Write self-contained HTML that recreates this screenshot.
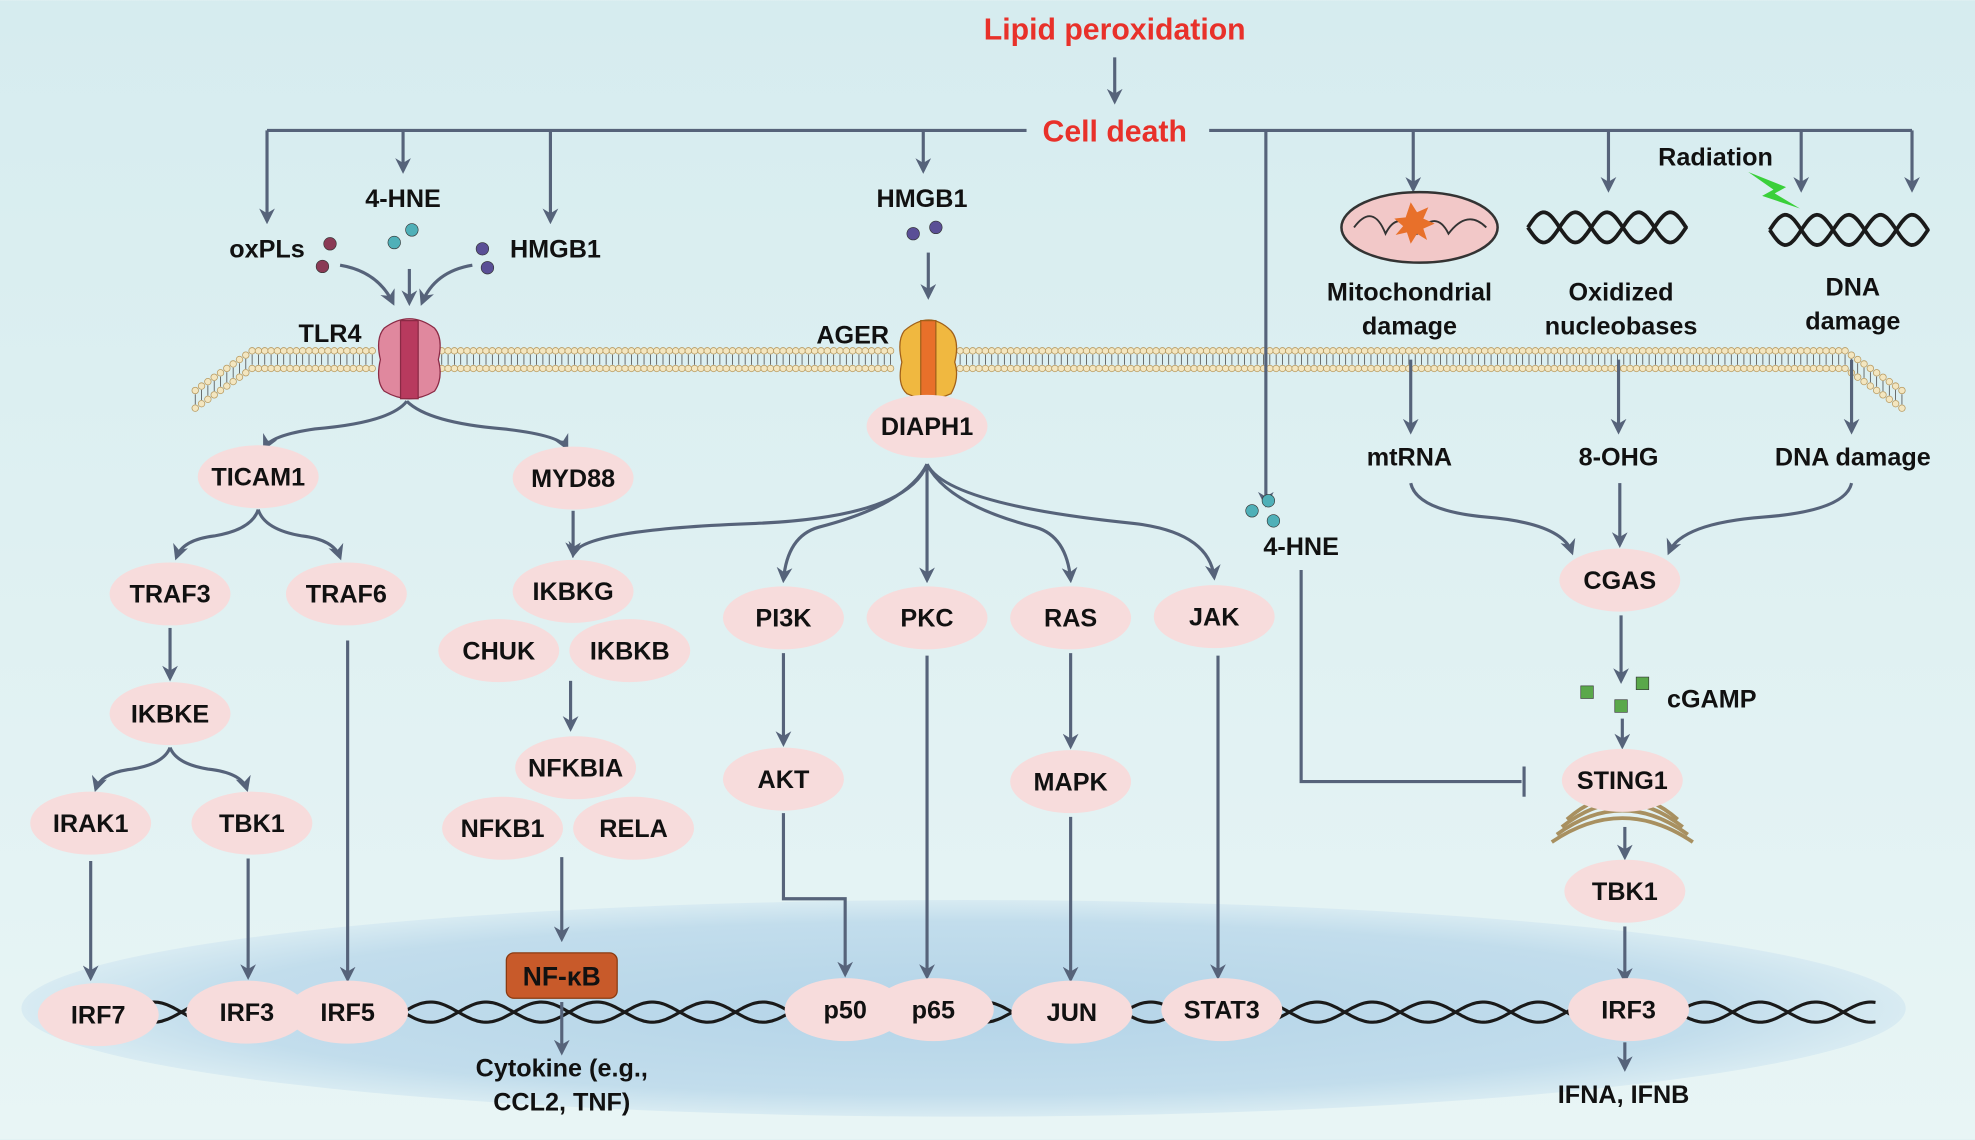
<!DOCTYPE html>
<html><head><meta charset="utf-8"><style>
html,body{margin:0;padding:0;background:#e0f0f2}
svg{display:block}
text{font-family:"Liberation Sans",sans-serif;font-weight:bold;fill:#111}
</style></head><body>
<svg id="s" width="1975" height="1140" viewBox="0 0 1568 904" xmlns="http://www.w3.org/2000/svg">
<defs>
<linearGradient id="bg" x1="0" y1="0" x2="0" y2="1"><stop offset="0" stop-color="#d6ecef"/><stop offset="1" stop-color="#e8f5f5"/></linearGradient>
<radialGradient id="nuc" cx="0.5" cy="0.5" r="0.5"><stop offset="0" stop-color="#b4d4e8"/><stop offset="0.8" stop-color="#c2ddec"/><stop offset="1" stop-color="#d8ebf2"/></radialGradient>
<marker id="a" viewBox="0 0 10 10" refX="8" refY="5" markerWidth="5" markerHeight="5" orient="auto"><path d="M0,0 L10,5 L0,10 L3,5z" fill="#56637a"/></marker>
</defs>
<rect width="1568" height="904" fill="url(#bg)"/>
<ellipse cx="765" cy="800" rx="748" ry="86" fill="url(#nuc)"/>
<g id="mem"></g>
<g id="dna" fill="none" stroke="#1a1a1a" stroke-width="2.5"></g>
<g fill="none" stroke="#56637a" stroke-width="2.5">
<path d="M885 45 V80" marker-end="url(#a)"/>
<path d="M212 103 H815 M960 103 H1518"/>
<path d="M212 103 V175" marker-end="url(#a)"/>
<path d="M320 103 V135" marker-end="url(#a)"/>
<path d="M437 103 V175" marker-end="url(#a)"/>
<path d="M733 103 V135" marker-end="url(#a)"/>
<path d="M1005 103 V400" marker-end="url(#a)"/>
<path d="M1122 103 V150" marker-end="url(#a)"/>
<path d="M1277 103 V150" marker-end="url(#a)"/>
<path d="M1430 103 V150" marker-end="url(#a)"/>
<path d="M1518 103 V150" marker-end="url(#a)"/>
<path d="M270 210 Q300 215 312 240" marker-end="url(#a)"/>
<path d="M325 213 V240" marker-end="url(#a)"/>
<path d="M375 210 Q345 215 335 240" marker-end="url(#a)"/>
<path d="M737 200 V235" marker-end="url(#a)"/>
<path d="M323 318 Q310 335 250 340 Q215 345 210 355" marker-end="url(#a)"/>
<path d="M323 318 Q340 335 400 340 Q445 345 450 355" marker-end="url(#a)"/>
<path d="M205 404 Q200 420 170 425 Q145 428 140 442" marker-end="url(#a)"/>
<path d="M205 404 Q210 420 240 425 Q265 428 270 442" marker-end="url(#a)"/>
<path d="M135 498 V538" marker-end="url(#a)"/>
<path d="M135 593 Q130 606 105 610 Q80 613 76 626" marker-end="url(#a)"/>
<path d="M135 593 Q140 606 165 610 Q192 613 196 626" marker-end="url(#a)"/>
<path d="M72 683 V776" marker-end="url(#a)"/>
<path d="M197 681 V775" marker-end="url(#a)"/>
<path d="M276 508 V777" marker-end="url(#a)"/>
<path d="M455 405 V440" marker-end="url(#a)"/>
<path d="M453 540 V578" marker-end="url(#a)"/>
<path d="M446 680 V745" marker-end="url(#a)"/>
<path d="M446 795 V835" marker-end="url(#a)"/>
<path d="M736 368 Q720 410 600 415 Q460 420 455 440" marker-end="url(#a)"/>
<path d="M736 368 Q720 400 650 418 Q625 425 622 460" marker-end="url(#a)"/>
<path d="M736 368 V460" marker-end="url(#a)"/>
<path d="M736 368 Q752 400 822 418 Q847 425 850 460" marker-end="url(#a)"/>
<path d="M736 368 Q752 400 900 415 Q960 422 964 458" marker-end="url(#a)"/>
<path d="M622 518 V590" marker-end="url(#a)"/>
<path d="M850 518 V592" marker-end="url(#a)"/>
<path d="M622 645 V713 H671 V773" marker-end="url(#a)"/>
<path d="M736 520 V775" marker-end="url(#a)"/>
<path d="M850 648 V777" marker-end="url(#a)"/>
<path d="M967 520 V775" marker-end="url(#a)"/>
<path d="M1033 452 V620 H1208"/><path d="M1210 608 V632"/>
<path d="M1120 285 V342" marker-end="url(#a)"/>
<path d="M1285 285 V342" marker-end="url(#a)"/>
<path d="M1470 285 V342" marker-end="url(#a)"/>
<path d="M1120 383 Q1125 405 1180 410 Q1240 415 1248 438" marker-end="url(#a)"/>
<path d="M1286 383 V432" marker-end="url(#a)"/>
<path d="M1470 383 Q1465 405 1400 410 Q1335 415 1325 438" marker-end="url(#a)"/>
<path d="M1287 488 V540" marker-end="url(#a)"/>
<path d="M1288 570 V592" marker-end="url(#a)"/>
<path d="M1290 656 V680" marker-end="url(#a)"/>
<path d="M1290 735 V778" marker-end="url(#a)"/>
<path d="M1290 827 V848" marker-end="url(#a)"/>
</g>
<g stroke="#333" stroke-width="0.5">
<circle cx="262" cy="193" r="5" fill="#8a3a55"/><circle cx="256" cy="211" r="5" fill="#8a3a55"/>
<circle cx="313" cy="192" r="5" fill="#4fb0b8"/><circle cx="327" cy="182" r="5" fill="#4fb0b8"/>
<circle cx="383" cy="197" r="5" fill="#5a4f96"/><circle cx="387" cy="212" r="5" fill="#5a4f96"/>
<circle cx="725" cy="185" r="5" fill="#5a4f96"/><circle cx="743" cy="180" r="5" fill="#5a4f96"/>
<circle cx="994" cy="405" r="5" fill="#4fb0b8"/><circle cx="1007" cy="397" r="5" fill="#4fb0b8"/><circle cx="1011" cy="413" r="5" fill="#4fb0b8"/>
<rect x="1255" y="544" width="10" height="10" fill="#5aa84a"/><rect x="1282" y="555" width="10" height="10" fill="#5aa84a"/><rect x="1299" y="537" width="10" height="10" fill="#5aa84a"/>
</g>
<g stroke="#8a2a45" stroke-width="1">
<path d="M305 260 Q298 268 302 285 Q298 302 305 310 Q325 322 345 310 Q352 300 348 285 Q352 268 345 260 Q325 245 305 260z" fill="#e0889e"/>
<rect x="318" y="254" width="14" height="62" fill="#b83a5e"/>
</g>
<g stroke="#a0601a" stroke-width="1">
<path d="M718 262 Q712 270 716 287 Q712 305 720 312 Q738 320 755 312 Q762 300 758 287 Q762 270 755 262 Q738 245 718 262z" fill="#f0b840"/>
<rect x="731" y="254" width="12" height="62" fill="#e8702a"/>
</g>
<ellipse cx="1127" cy="180" rx="62" ry="28" fill="#f2c8c8" stroke="#333" stroke-width="2"/>
<path d="M1075 180 Q1090 160 1100 185 Q1110 165 1125 185 Q1140 165 1150 185 Q1165 165 1180 180" fill="none" stroke="#333" stroke-width="1.5"/>
<path d="M1120 160 l5 8 l9 -4 l-4 9 l9 4 l-9 4 l3 9 l-8 -5 l-5 8 l-3 -9 l-9 2 l6 -7 l-7 -6 l9 -1z" fill="#e8702a"/>
<path d="M1388 136 l30 12 l-9 5 l20 12 l-30 -10 l9 -5z" fill="#3ad03a"/>
<g id="icons" fill="none" stroke="#1a1a1a" stroke-width="3"></g>
<g id="nodes"></g>
<rect x="402" y="756" width="88" height="36" rx="6" fill="#c85a2a" stroke="#8a3a10"/>
<text x="446" y="782" text-anchor="middle" font-size="21" style="fill:#111">NF-κB</text>
<g font-size="20">
<text x="885" y="31" text-anchor="middle" font-size="24" style="fill:#e8312a">Lipid peroxidation</text>
<text x="885" y="112" text-anchor="middle" font-size="24" style="fill:#e8312a">Cell death</text>
<text x="320" y="164" text-anchor="middle">4-HNE</text>
<text x="212" y="204" text-anchor="middle">oxPLs</text>
<text x="441" y="204" text-anchor="middle">HMGB1</text>
<text x="262" y="271" text-anchor="middle">TLR4</text>
<text x="732" y="164" text-anchor="middle">HMGB1</text>
<text x="677" y="272" text-anchor="middle">AGER</text>
<text x="1362" y="131" text-anchor="middle">Radiation</text>
<text x="1119" y="238" text-anchor="middle">Mitochondrial</text>
<text x="1119" y="265" text-anchor="middle">damage</text>
<text x="1287" y="238" text-anchor="middle">Oxidized</text>
<text x="1287" y="265" text-anchor="middle">nucleobases</text>
<text x="1471" y="234" text-anchor="middle">DNA</text>
<text x="1471" y="261" text-anchor="middle">damage</text>
<text x="1119" y="369" text-anchor="middle">mtRNA</text>
<text x="1285" y="369" text-anchor="middle">8-OHG</text>
<text x="1471" y="369" text-anchor="middle">DNA damage</text>
<text x="1033" y="440" text-anchor="middle">4-HNE</text>
<text x="1359" y="561" text-anchor="middle">cGAMP</text>
<text x="446" y="854" text-anchor="middle">Cytokine (e.g.,</text>
<text x="446" y="881" text-anchor="middle">CCL2, TNF)</text>
<text x="1289" y="875" text-anchor="middle">IFNA, IFNB</text>
</g>
</svg>
<script>
var NS="http://www.w3.org/2000/svg";
function el(t,a,p){var e=document.createElementNS(NS,t);for(var k in a)e.setAttribute(k,a[k]);p.appendChild(e);return e;}
var mem=document.getElementById('mem');
function mpt(t){var x=155+t*1355;var y=285;
 if(x<200){y=285+(200-x)*0.7;} if(x>1465){y=285+(x-1465)*0.7;}
 return [x,y];}
for(var i=0;i<=270;i++){var p=mpt(i/270);if(Math.abs(p[0]-325)<25||Math.abs(p[0]-737)<25)continue;
 el('circle',{cx:p[0],cy:p[1]-7,r:2.6,fill:'#f3e6c0',stroke:'#b89a60','stroke-width':0.6},mem);
 el('circle',{cx:p[0],cy:p[1]+7,r:2.6,fill:'#f3e6c0',stroke:'#b89a60','stroke-width':0.6},mem);
 el('line',{x1:p[0],y1:p[1]-4,x2:p[0],y2:p[1]+4,stroke:'#444','stroke-width':0.6},mem);}
function helix(g,x0,x1,yc,amp,per){var d1="",d2="";
 for(var x=x0;x<=x1;x+=1.5){var s=Math.sin((x-x0)/per);d1+=(x==x0?"M":"L")+x+" "+(yc+amp*s).toFixed(1)+" ";d2+=(x==x0?"M":"L")+x+" "+(yc-amp*s).toFixed(1)+" ";}
 el('path',{d:d1},g);el('path',{d:d2},g);}
var dna=document.getElementById('dna');
helix(dna,100,1490,803,8,14);
var ic=document.getElementById('icons');
helix(ic,1213,1340,180,12,8);
helix(ic,1405,1532,182,12,8);
var N=[["TICAM1",205,378],["MYD88",455,379],["TRAF3",135,471],["TRAF6",275,471],["IKBKG",455,469],["CHUK",396,516],["IKBKB",500,516],["IKBKE",135,566],["IRAK1",72,653],["TBK1",200,653],["NFKBIA",457,609],["NFKB1",399,657],["RELA",503,657],["DIAPH1",736,338],["PI3K",622,490],["PKC",736,490],["RAS",850,490],["JAK",964,489],["AKT",622,618],["MAPK",850,620],["CGAS",1286,460],["STING1",1288,619],["TBK1",1290,707],["IRF7",78,805],["IRF3",196,803],["IRF5",276,803],["p50",671,801],["p65",741,801],["JUN",851,803],["STAT3",970,801],["IRF3",1293,801]];
var g=document.getElementById('nodes');
for(var k=0;k<4;k++)el('path',{d:"M"+(1232+k*4)+" "+(668-k*6)+" Q1288 "+(630-k*6)+" "+(1344-k*4)+" "+(668-k*6),fill:'none',stroke:'#a89060','stroke-width':3},g);
N.forEach(function(n){el('ellipse',{cx:n[1],cy:n[2],rx:48,ry:25,fill:'#f7dcdc'},g);
 var t=el('text',{x:n[1],y:n[2]+7,'text-anchor':'middle','font-size':20},g);t.textContent=n[0];});
</script>
</body></html>
